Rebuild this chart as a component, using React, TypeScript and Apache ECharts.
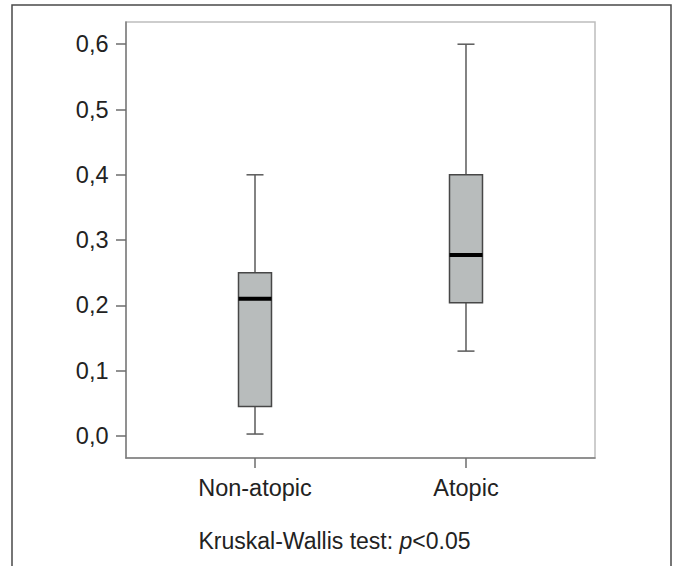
import React, { useEffect, useRef } from "react";
import * as echarts from "echarts";

const categories = ["Non-atopic", "Atopic"];
// [low whisker, Q1, median, Q3, high whisker]
const lowWhisker = [0.003, 0.13];
const q1 = [0.045, 0.204];
const median = [0.21, 0.277];
const q3 = [0.25, 0.4];
const highWhisker = [0.4, 0.6];
const yTicks = [0, 0.1, 0.2, 0.3, 0.4, 0.5, 0.6];
const footnotePrefix = "Kruskal-Wallis test: ";
const footnoteP = "p";
const footnoteSuffix = "<0.05";

const FONT = "'Liberation Sans', Arial, Helvetica, sans-serif";

export default function App() {
  const ref = useRef<HTMLDivElement>(null);
  useEffect(() => {
    if (!ref.current) return;
    const chart = echarts.init(ref.current, null, { renderer: "svg" });
    const data = categories.map((_, i) => [i, lowWhisker[i], q1[i], median[i], q3[i], highWhisker[i]]);
    const boxHalf = 16.5;
    const capHalf = 8.5;
    const option: any = {
      animation: false,
      backgroundColor: "#ffffff",
      textStyle: { fontFamily: FONT },
      grid: {
        left: 126,
        top: 22,
        right: 81,
        bottom: 108,
        show: true,
        borderColor: "#bdbdbd",
        borderWidth: 1.5,
        backgroundColor: "transparent",
      },
      xAxis: {
        type: "value",
        min: -0.6114,
        max: 1.6114,
        splitLine: { show: false },
        axisLine: { show: true, onZero: false, lineStyle: { color: "#7d7d7d", width: 1.5 } },
        axisTick: { show: true, customValues: [0, 1], length: 10, lineStyle: { color: "#6d6d6d", width: 1.5 } },
        axisLabel: {
          customValues: [0, 1],
          margin: 18,
          fontSize: 23.5,
          color: "#222222",
          fontFamily: FONT,
          formatter: (v: number) => categories[Math.round(v)] ?? "",
        },
      },
      yAxis: {
        type: "value",
        min: -0.0337,
        max: 0.634,
        splitLine: { show: false },
        axisLine: { show: true, onZero: false, lineStyle: { color: "#7d7d7d", width: 1.5 } },
        axisTick: { show: true, customValues: yTicks, length: 10, lineStyle: { color: "#6d6d6d", width: 1.5 } },
        axisLabel: {
          customValues: yTicks,
          margin: 17.5,
          fontSize: 23.5,
          color: "#222222",
          fontFamily: FONT,
          formatter: (v: number) => v.toFixed(1).replace(".", ","),
        },
      },
      series: [
        {
          type: "custom",
          data,
          renderItem: (params: any, api: any) => {
            const x = api.value(0);
            const pLow = api.coord([x, api.value(1)]);
            const pQ1 = api.coord([x, api.value(2)]);
            const pMed = api.coord([x, api.value(3)]);
            const pQ3 = api.coord([x, api.value(4)]);
            const pHigh = api.coord([x, api.value(5)]);
            const cx = pLow[0];
            const lineStyle = { stroke: "#5a5a5a", lineWidth: 1.5 };
            return {
              type: "group",
              children: [
                { type: "line", shape: { x1: cx, y1: pHigh[1], x2: cx, y2: pQ3[1] }, style: lineStyle },
                { type: "line", shape: { x1: cx, y1: pQ1[1], x2: cx, y2: pLow[1] }, style: lineStyle },
                { type: "line", shape: { x1: cx - capHalf, y1: pHigh[1], x2: cx + capHalf, y2: pHigh[1] }, style: lineStyle },
                { type: "line", shape: { x1: cx - capHalf, y1: pLow[1], x2: cx + capHalf, y2: pLow[1] }, style: lineStyle },
                {
                  type: "rect",
                  shape: { x: cx - boxHalf, y: pQ3[1], width: boxHalf * 2, height: pQ1[1] - pQ3[1] },
                  style: { fill: "#b8bcbc", stroke: "#474747", lineWidth: 1.5 },
                },
                {
                  type: "line",
                  shape: { x1: cx - boxHalf, y1: pMed[1], x2: cx + boxHalf, y2: pMed[1] },
                  style: { stroke: "#000000", lineWidth: 4 },
                },
              ],
            };
          },
        },
      ],
      graphic: [
        {
          type: "polyline",
          shape: { points: [[12, 580], [12, 5], [671, 5], [671, 580]] },
          style: { stroke: "#4a4a4a", lineWidth: 1.5, fill: "none" },
          silent: true,
        },
        {
          type: "text",
          x: 334.5,
          y: 541,
          style: {
            text: `{a|${footnotePrefix}}{b|${footnoteP}}{a|${footnoteSuffix}}`,
            align: "center",
            verticalAlign: "middle",
            rich: {
              a: { fontSize: 23, fill: "#222222", fontFamily: FONT },
              b: { fontSize: 23, fill: "#222222", fontFamily: FONT, fontStyle: "italic" },
            },
          },
        },
      ],
    };
    chart.setOption(option);
    return () => chart.dispose();
  }, []);
  return (
    <div
      ref={ref}
      style={{ position: "absolute", left: 0, top: 0, width: 676, height: 566 }}
    />
  );
}
